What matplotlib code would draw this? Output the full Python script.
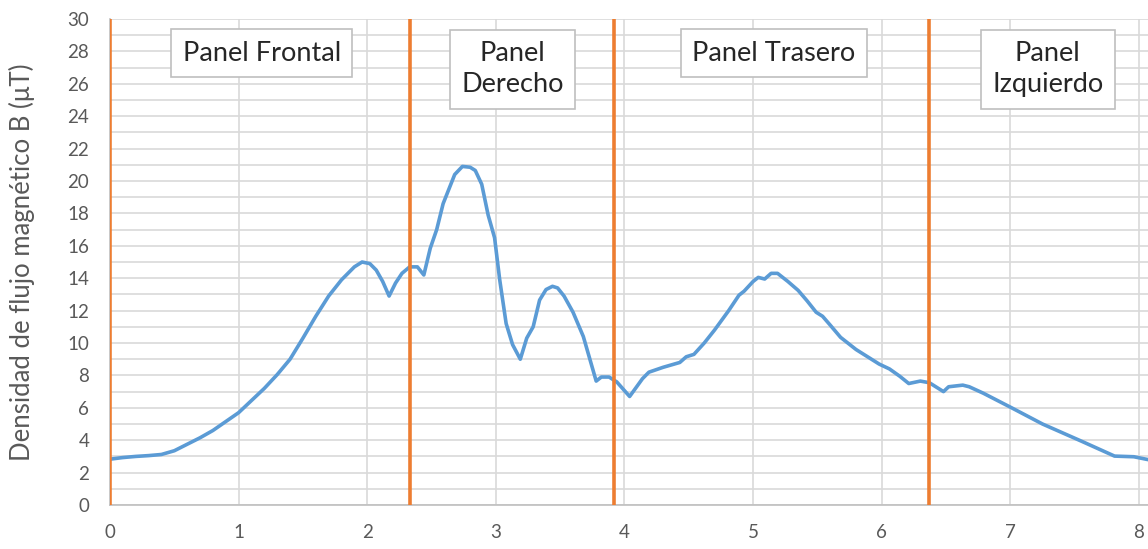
import matplotlib.pyplot as plt

# posición (m) y densidad de flujo (uT)
x = [0, 0.1, 0.2, 0.3, 0.4, 0.5, 0.6, 0.7, 0.8, 0.9, 1.0, 1.1, 1.2, 1.3, 1.4,
     1.5, 1.6, 1.7, 1.8, 1.9, 1.96, 2.02, 2.07, 2.12, 2.17, 2.22, 2.27, 2.33,
     2.39, 2.44, 2.49, 2.54, 2.59, 2.64, 2.68, 2.74, 2.80, 2.84, 2.89, 2.94,
     2.99, 3.03, 3.08, 3.13, 3.19, 3.24, 3.29, 3.34, 3.39, 3.44, 3.48, 3.53,
     3.60, 3.68, 3.78, 3.82, 3.88, 3.94, 4.04, 4.14, 4.19, 4.30, 4.43, 4.48,
     4.54, 4.62, 4.70, 4.81, 4.89, 4.93, 5.0, 5.04, 5.09, 5.14, 5.19, 5.27,
     5.35, 5.42, 5.49, 5.54, 5.60, 5.68, 5.80, 5.91, 5.98, 6.06, 6.14, 6.21,
     6.30, 6.37, 6.48, 6.52, 6.63, 6.68, 6.79, 7.01, 7.25, 7.55, 7.81, 7.96,
     8.06]
b = [2.83, 2.93, 3.0, 3.05, 3.12, 3.35, 3.75, 4.15, 4.6, 5.15, 5.7, 6.45, 7.2,
     8.05, 9.0, 10.3, 11.65, 12.9, 13.9, 14.7, 15.0, 14.9, 14.5, 13.8, 12.9,
     13.7, 14.3, 14.7, 14.7, 14.2, 15.85, 17.0, 18.6, 19.6, 20.4, 20.9, 20.85,
     20.65, 19.8, 17.9, 16.5, 13.9, 11.2, 9.9, 9.0, 10.3, 11.0, 12.65, 13.3,
     13.5, 13.4, 12.9, 11.9, 10.4, 7.65, 7.9, 7.9, 7.6, 6.7, 7.8, 8.2, 8.5,
     8.8, 9.15, 9.3, 10.0, 10.8, 12.0, 12.95, 13.2, 13.8, 14.05, 13.95, 14.3,
     14.3, 13.8, 13.25, 12.6, 11.9, 11.65, 11.1, 10.35, 9.6, 9.05, 8.7, 8.4,
     7.95, 7.5, 7.65, 7.55, 7.0, 7.3, 7.4, 7.3, 6.9, 6.0, 5.0, 3.95, 3.02,
     2.98, 2.82]

limites = [0, 2.33, 3.92, 6.37]
paneles = ['Panel Frontal', 'Panel\nDerecho', 'Panel Trasero', 'Panel\nIzquierdo']
pos_x = [1.18, 3.13, 5.16, 7.29]
pos_y = [27.9, 26.9, 27.9, 26.9]

plt.rcParams['font.family'] = ['Lato', 'DejaVu Sans']

fig = plt.figure(figsize=(11.48, 5.49), dpi=100)
ax = fig.add_axes([0.0958, 0.0801, 0.9042, 0.8853])

ax.plot(x, b, color='#5B9BD5', lw=2.6, zorder=3)
for v in limites:
    ax.axvline(v, color='#ED7D31', lw=2.6, zorder=4)

for t, px, py in zip(paneles, pos_x, pos_y):
    ax.text(px, py, t, ha='center', va='center', fontsize=19.5, color='#262626',
            linespacing=1.3, zorder=5,
            bbox=dict(boxstyle='square,pad=0.42', fc='white', ec='#BFBFBF', lw=1.2))

ax.set_xlim(0, 8.07)
ax.set_ylim(0, 30)
ax.set_xticks(range(0, 9))
ax.set_yticks(range(0, 31, 2))
ax.set_yticks(range(0, 31), minor=True)
ax.grid(True, which='both', axis='y', color='#D9D9D9', lw=1.2)
ax.grid(True, which='major', axis='x', color='#D9D9D9', lw=1.2)
ax.set_axisbelow(True)
ax.tick_params(which='both', length=0, labelsize=13.5, labelcolor='#595959')
ax.tick_params(axis='x', pad=14)
ax.tick_params(axis='y', pad=15)

for s in ['top', 'right']:
    ax.spines[s].set_visible(False)
for s in ['left', 'bottom']:
    ax.spines[s].set_color('#BFBFBF')
    ax.spines[s].set_linewidth(1.2)

ax.set_ylabel('Densidad de flujo magnético B (μT)', fontsize=18.5, color='#595959')
ax.yaxis.set_label_coords(-0.072, 0.5)

fig.savefig('out.png', dpi=100)
